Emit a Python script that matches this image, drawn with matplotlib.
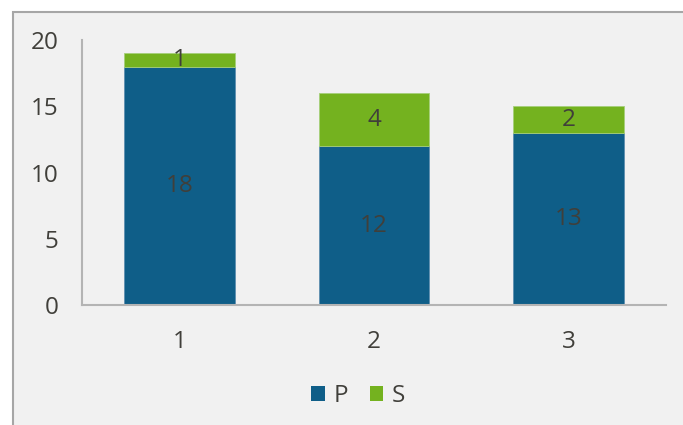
import matplotlib
matplotlib.use("Agg")
import matplotlib.pyplot as plt
from matplotlib.patches import Rectangle, Patch
import numpy as np

categories = ["1", "2", "3"]
p_values = [18, 12, 13]
s_values = [1, 4, 2]
y_ticks = [0, 5, 10, 15, 20]

P_COLOR = "#0F5E88"
S_COLOR = "#74B21F"
TEXT_COLOR = "#403F3A"
PANEL = "#F1F1F1"
FS = 17.5

plt.rcParams["font.family"] = ["Open Sans", "DejaVu Sans"]

W, H = 683, 425
fig = plt.figure(figsize=(W / 100, H / 100), dpi=100)
fig.patch.set_facecolor("white")

# chart panel with a grey frame on its top and left edges
panel = Rectangle((12.5 / W, -0.1), 1.0, 1.1 - 12.5 / H, transform=fig.transFigure,
                  facecolor=PANEL, edgecolor="#A6A6A6", linewidth=1.5, zorder=-5)
fig.patches.append(panel)

left, right = 82 / W, 666 / W
bottom, top = 1 - 305 / H, 1 - 40 / H
ax = fig.add_axes([left, bottom, right - left, top - bottom])
ax.set_zorder(1)
ax.set_facecolor("none")

x = np.arange(len(categories))
width = 0.57
bp = ax.bar(x, p_values, width, color=P_COLOR, edgecolor="#5E8FAF", linewidth=0.6, zorder=2)
bs = ax.bar(x, s_values, width, bottom=p_values, color=S_COLOR, edgecolor="#A6CF7A",
            linewidth=0.6, zorder=2)

for xi, p, s in zip(x, p_values, s_values):
    ax.text(xi, p / 2, str(p), ha="center", va="center", fontsize=FS,
            color=TEXT_COLOR, zorder=3)
    ax.text(xi, p + s / 2, str(s), ha="center", va="center", fontsize=FS,
            color=TEXT_COLOR, zorder=3)

ax.set_xlim(-0.5, len(categories) - 0.5)
ax.set_ylim(0, 20)
ax.set_yticks(y_ticks)
ax.set_xticks(x)
ax.set_xticklabels(categories)
ax.tick_params(axis="both", length=0, labelsize=FS, colors=TEXT_COLOR)
ax.tick_params(axis="y", pad=17)
ax.tick_params(axis="x", pad=18)

for side in ("top", "right"):
    ax.spines[side].set_visible(False)
for side in ("left", "bottom"):
    ax.spines[side].set_color("#B4B4B4")
    ax.spines[side].set_linewidth(1.5)

handles = [Patch(facecolor=P_COLOR, label="P"), Patch(facecolor=S_COLOR, label="S")]
leg = fig.legend(handles=handles, loc="center", bbox_to_anchor=(358 / W, 1 - 396 / H),
                 ncol=2, frameon=False, fontsize=FS, handlelength=0.55, handleheight=0.55,
                 handletextpad=0.35, columnspacing=0.9, labelcolor=TEXT_COLOR)
leg.set_zorder(2)

fig.savefig("out.png", dpi=100, facecolor=fig.get_facecolor())
